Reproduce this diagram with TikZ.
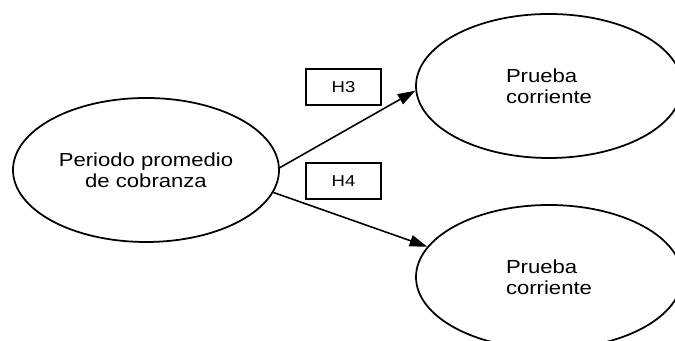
\documentclass[tikz,border=0pt]{standalone}
\usepackage{fontspec}
\setmainfont{Liberation Sans}[FakeStretch=1.17]
\usepackage{tikz}
\usetikzlibrary{shapes.geometric,arrows.meta}

\begin{document}
\begin{tikzpicture}[
	var/.style={shape=ellipse,draw=black,line width=1pt,minimum width=5.32cm,minimum height=2.88cm,inner sep=0pt,font=\fontsize{10.75}{12.2}\selectfont},
	hyp/.style={shape=rectangle,draw=black,line width=0.8pt,minimum width=1.5cm,minimum height=0.72cm,inner sep=0pt,font=\fontsize{9}{10}\selectfont},
	rel/.style={line width=0.9pt,-{Triangle[length=10pt,width=6.5pt]}}]

	\clip (0,0) rectangle (13.5,6.82);

	\node[var,align=center] (ppc) at (2.92, 3.42)  {Periodo promedio\\de cobranza};
	\node[var,align=left] (pr1) at (10.98, 5.10)  {Prueba\\corriente};
	\node[var,align=left] (pr2) at (10.98, 1.28)  {Prueba\\corriente};

	\node[hyp] (h3) at (6.87, 5.08)  {H3};
	\node[hyp] (h4) at (6.87, 3.20)  {H4};

	\path[rel] (ppc.1) edge (pr1.182);
	\path[rel] (ppc.-10) edge (pr2.166);

\end{tikzpicture}
\end{document}
